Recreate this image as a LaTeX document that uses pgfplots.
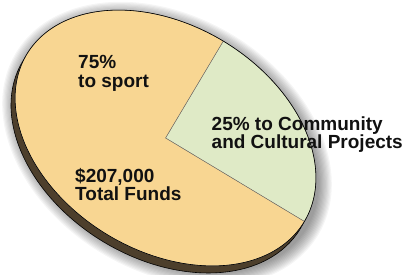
\documentclass[border=0pt]{standalone}
\usepackage{pgfplots}
\pgfplotsset{compat=1.18}
\usepackage{pgfplotstable}
\usepackage{fontspec}
\setmainfont{Liberation Sans}
\definecolor{sportC}{RGB}{248,214,146}
\definecolor{commC}{RGB}{223,234,198}
\definecolor{sideC}{RGB}{77,63,44}
\definecolor{txtC}{RGB}{17,17,17}

\pgfplotstableread{
label share
Community 25
Sport 75
}\piedata

\begin{document}
\begin{tikzpicture}
% soft shadow
\foreach \i in {1,...,12}{
  \fill[black, opacity=0.04, shift={(167bp,-144bp)}, rotate=-31.2]
    (0,0) ellipse[x radius={162.1bp+\i*1.2bp}, y radius={112.9bp+\i*1.2bp}];
}
% side / thickness
\fill[sideC, draw=black, line width=0.6pt, shift={(161.5bp,-145bp)}, rotate=-31.2]
    (0,0) ellipse[x radius=162.1bp, y radius=112.9bp];

\pgfplotstablegetelem{0}{share}\of\piedata \let\sA\pgfplotsretval
\pgfplotstablegetelem{1}{share}\of\piedata \let\sB\pgfplotsretval
\pgfmathsetmacro\aStart{0.3}
\pgfmathsetmacro\aMid{\aStart+3.6*\sA}
\pgfmathsetmacro\aEnd{\aMid+3.6*\sB}

\begin{axis}[
  at={(165.5bp,-138bp)}, anchor=origin,
  x={(138.6bp,-84.0bp)}, y={(58.5bp,96.5bp)},
  xmin=-1.3, xmax=1.3, ymin=-1.3, ymax=1.3,
  hide axis, clip=false,
]
\addplot[fill=commC, draw=black!60, line width=0.4pt, domain=\aStart:\aMid, samples=80, variable=\t]
  ({cos(t)},{sin(t)}) -- (0,0) -- cycle;
\addplot[fill=sportC, draw=black!60, line width=0.4pt, domain=\aMid:\aEnd, samples=200, variable=\t]
  ({cos(t)},{sin(t)}) -- (0,0) -- cycle;
\addplot[draw=black, line width=0.6pt, domain=0:360, samples=240, variable=\t]
  ({cos(t)},{sin(t)});
\end{axis}

\begin{scope}[every node/.style={inner sep=0pt, anchor=base west, text=txtC,
    font=\fontsize{19bp}{19bp}\selectfont\bfseries}]
\node at (78bp,-68.3bp) {75\%};
\node at (78bp,-87.7bp) {to sport};
\node at (75bp,-182.5bp) {\$207,000};
\node at (75bp,-200.5bp) {Total Funds};
\node at (211.5bp,-130bp) {25\% to Community};
\node at (211.5bp,-148.3bp) {and Cultural Projects};
\end{scope}

\pgfresetboundingbox
\useasboundingbox (0,0) rectangle (403bp,-275bp);
\end{tikzpicture}
\end{document}
